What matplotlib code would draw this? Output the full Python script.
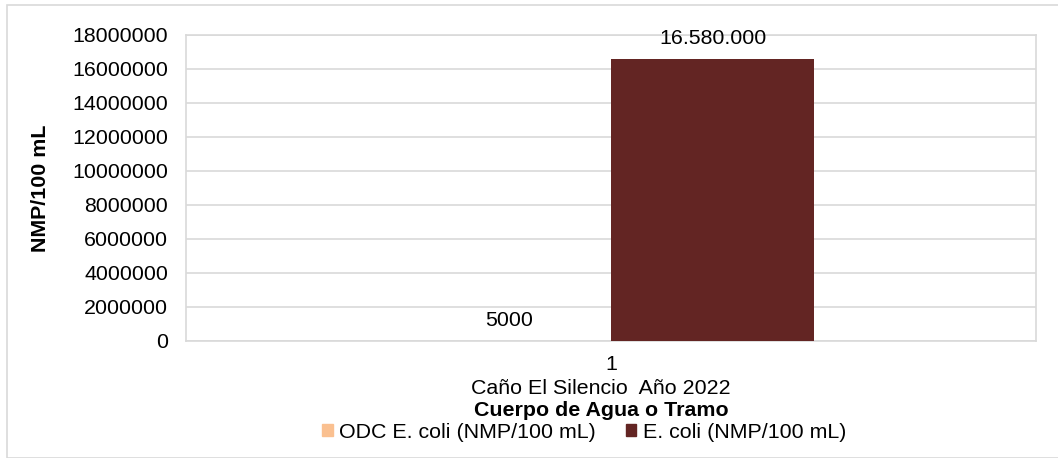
import matplotlib
matplotlib.use("Agg")
import matplotlib.pyplot as plt
from matplotlib.patches import Rectangle, Patch
from matplotlib.transforms import offset_copy

categories = ["1"]
category_names = ["Caño El Silencio  Año 2022"]
series_names = ["ODC E. coli (NMP/100 mL)", "E. coli (NMP/100 mL)"]
odc_values = [5000]
ecoli_values = [16580000]
data_labels_odc = ["5000"]
data_labels_ecoli = ["16.580.000"]
yticks = [0, 2000000, 4000000, 6000000, 8000000, 10000000, 12000000, 14000000, 16000000, 18000000]

plt.rcParams['font.family'] = ['Liberation Sans', 'DejaVu Sans']
FS = 15.4

W, H = 1058, 458
fig = plt.figure(figsize=(W / 100, H / 100), dpi=100)
fig.patches.append(Rectangle((7 / W, 0), 1.0, 1 - 5 / H, transform=fig.transFigure,
                             fill=False, edgecolor='#D9D9D9', linewidth=1.2, zorder=0))

ax = fig.add_axes([186 / W, 1 - 341 / H, (1036 - 186) / W, (341 - 35) / H])
width = 0.239
x = [0]
c1 = '#FAC090'
c2 = '#632523'
ax.bar([xi - width / 2 for xi in x], odc_values, width, color=c1, zorder=3)
ax.bar([xi + width / 2 for xi in x], ecoli_values, width, color=c2, zorder=3)

for xi, v, t in zip(x, odc_values, data_labels_odc):
    ax.annotate(t, (xi - width / 2, v), xytext=(0, 8), textcoords='offset points',
                ha='center', va='bottom', fontsize=FS, color='#000000')
for xi, v, t in zip(x, ecoli_values, data_labels_ecoli):
    ax.annotate(t, (xi + width / 2, v), xytext=(0, 8), textcoords='offset points',
                ha='center', va='bottom', fontsize=FS, color='#000000')

ax.set_xlim(-0.5, 0.5)
ax.set_ylim(0, 18000000)
ax.set_yticks(yticks)
ax.set_yticklabels([str(t) for t in yticks], fontsize=FS)
ax.tick_params(axis='y', length=0, pad=13)
ax.set_xticks(x)
ax.set_xticklabels(categories, fontsize=FS)
ax.tick_params(axis='x', length=0, pad=10)
ax.grid(axis='y', color='#D9D9D9', linewidth=1.2, zorder=0)
for s in ax.spines.values():
    s.set_color('#D9D9D9')
    s.set_linewidth(1.2)

# category name below tick label
for xi, n in zip(x, category_names):
    tr = offset_copy(ax.get_xaxis_transform(), fig=fig, x=-10, y=0, units='dots')
    ax.text(xi, -(388 - 341) / 306, n, transform=tr, ha='center', va='center',
            fontsize=FS)

ax.set_ylabel("NMP/100 mL", fontsize=FS, fontweight='bold')
ax.yaxis.set_label_coords(-(186 - 50) / 850, 0.5)
fig.text(601 / W, 1 - 410 / H, "Cuerpo de Agua o Tramo", ha='center', va='center',
         fontsize=FS, fontweight='bold')

handles = [Patch(color=c1), Patch(color=c2)]
fig.legend(handles, series_names, loc='center', bbox_to_anchor=(584 / W, 1 - 432 / H),
           ncol=2, frameon=False, fontsize=FS, handlelength=0.5, handleheight=0.5,
           handletextpad=0.3, columnspacing=1.4, borderpad=0, borderaxespad=0)

fig.savefig("out.png", dpi=100)
